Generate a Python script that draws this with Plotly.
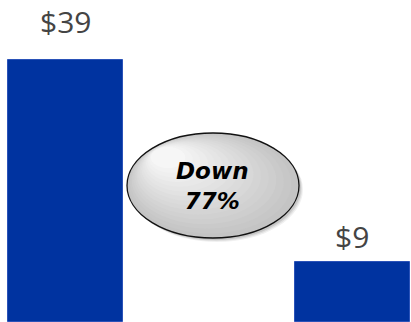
import plotly.graph_objects as go

categories = ["Before", "After"]
values = [39, 9]
labels = ["$39", "$9"]
label_shift = [16, 3]
callout = "Down<br>77%"

xpos = [0, 1]
fig = go.Figure()
fig.add_trace(go.Bar(
    x=xpos, y=values, width=0.40,
    marker=dict(color="#0033A0", line=dict(color="#2a52b8", width=1)),
    hoverinfo="skip", showlegend=False,
))

for xp, v, lab, sh in zip(xpos, values, labels, label_shift):
    fig.add_annotation(x=xp, y=v, text=lab, showarrow=False, yanchor="bottom",
                       yshift=sh, font=dict(family="Open Sans", size=30, color="#444444"))

# ellipse callout (paper coords), faked gradient
W, H = 411, 322
cx, cy, rx, ry = 213, 185.5, 86, 52.5
def px(x): return x / W
def py(y): return 1 - y / H
shapes = []
# soft shadow
for k, a in [(4, 0.06), (3, 0.08), (2, 0.10)]:
    shapes.append(dict(type="circle", xref="paper", yref="paper",
                       x0=px(cx - rx + k), x1=px(cx + rx + k), y0=py(cy + ry + k), y1=py(cy - ry + k),
                       fillcolor=f"rgba(0,0,0,{a})", line=dict(width=0), layer="above"))
n = 16
for i in range(n):
    t = i / (n - 1)
    s = 1 - 0.8 * t
    ccx = cx - 45 * t
    ccy = cy - 28 * t
    g = int(196 + (246 - 196) * t)
    shapes.append(dict(type="circle", xref="paper", yref="paper",
                       x0=px(ccx - rx * s), x1=px(ccx + rx * s),
                       y0=py(ccy + ry * s), y1=py(ccy - ry * s),
                       fillcolor=f"rgb({g},{g},{g})", line=dict(width=0), layer="above"))
shapes.append(dict(type="circle", xref="paper", yref="paper",
                   x0=px(cx - rx), x1=px(cx + rx), y0=py(cy + ry), y1=py(cy - ry),
                   fillcolor="rgba(0,0,0,0)", line=dict(color="#111111", width=1.3), layer="above"))
fig.update_layout(shapes=shapes)

fig.add_annotation(xref="paper", yref="paper", x=px(cx - 1), y=py(cy + 1), text=f"<b><i>{callout}</i></b>",
                   showarrow=False, font=dict(family="DejaVu Sans", size=23, color="#000000"))

fig.update_layout(
    width=411, height=322, margin=dict(l=0, r=0, t=0, b=0),
    paper_bgcolor="white", plot_bgcolor="white",
    xaxis=dict(range=[-0.228, 1.204], visible=False, fixedrange=True),
    yaxis=dict(range=[0, 48], visible=False, fixedrange=True),
    bargap=0,
)
fig.write_html("out.html", config={"displayModeBar": False})
